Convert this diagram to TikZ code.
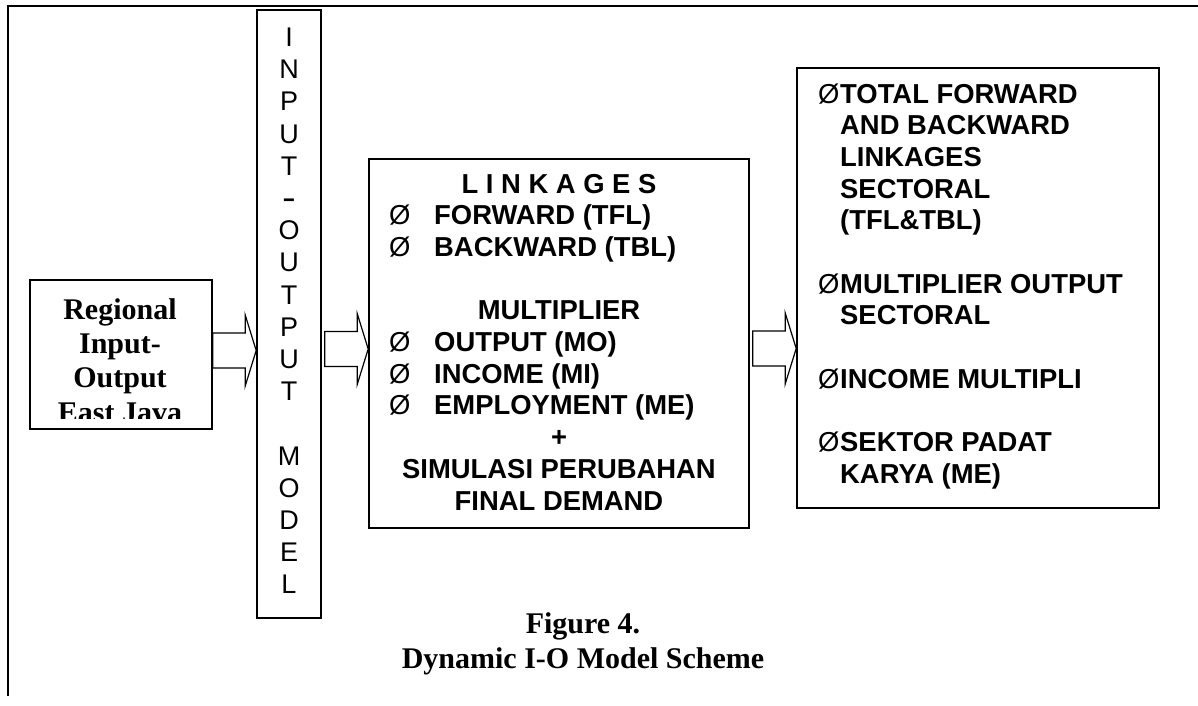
\documentclass[tikz,border=0pt]{standalone}
\usepackage{fontspec}
\setmainfont{Liberation Serif}
\newfontfamily\arialfont{Liberation Sans}
\usetikzlibrary{calc}

\begin{document}
\begin{tikzpicture}[x=1pt,y=-1pt,
  box/.style={draw, line width=1.6pt, inner sep=0pt},
  frameline/.style={line width=1.8pt, line cap=rect},
  blockarrow/.style={draw, line width=1.2pt, line join=miter},
  serifline/.style={inner sep=0pt, anchor=base,
    font=\bfseries\fontsize{30pt}{34pt}\selectfont},
  captionline/.style={inner sep=0pt, anchor=base,
    font=\bfseries\fontsize{30pt}{35pt}\selectfont},
  vletter/.style={inner sep=0pt, anchor=base,
    font=\arialfont\fontsize{27pt}{32pt}\selectfont},
  sansline/.style={inner sep=0pt,
    font=\arialfont\bfseries\fontsize{27.4pt}{31.7pt}\selectfont},
  mark symbol/.style={inner sep=0pt, anchor=base west,
    font=\arialfont\fontsize{27.4pt}{31.7pt}\selectfont}
]
\useasboundingbox (0,0) rectangle (1198,705);

% outer frame (open to the right and below)
\coordinate (frameBL) at (8,695);
\coordinate (frameTL) at (8,6);
\coordinate (frameTR) at (1198,6);
\draw[frameline] (frameBL) -- (frameTL) -- (frameTR);

% boxes
\node[box, minimum width=182pt, minimum height=149pt] (regional) at (121,354.5) {};
\node[box, minimum width=64pt, minimum height=608pt] (iomodel) at (289,314) {};
\node[box, minimum width=380pt, minimum height=369pt] (analysis) at (559,343.5) {};
\node[box, minimum width=362pt, minimum height=440pt] (results) at (978,288) {};

% Regional Input-Output East Java (last line cut off by the box)
\node[serifline] (rg1) at (120,319.5) {Regional};
\node[serifline] (rg2) at (120,353) {Input-};
\node[serifline] (rg3) at (120,387) {Output};
\begin{scope}
  \clip (31,281) rectangle (211,418.5);
  \node[serifline] (rg4) at (120,422.5) {East Java};
\end{scope}

% vertical INPUT – OUTPUT MODEL
\foreach \ch [count=\i from 0] in {I,N,P,U,T,{\scalebox{0.75}[1]{\bfseries –}},O,U,T,P,U,T}
  \node[vletter] (vt\i) at (289,{46.5+32.2*\i}) {\ch};
\foreach \ch [count=\i from 13] in {M,O,D,E,L}
  \node[vletter] (vt\i) at (289,{46.5+32.2*\i}) {\ch};

% middle box contents
\node[sansline, anchor=base] (lk) at (559,193) {L I N K A G E S};
\node[mark symbol] (m1) at (389,224.7) {Ø};
\node[sansline, anchor=base west] (fw) at (434,224.7) {FORWARD (TFL)};
\node[mark symbol] (m2) at (389,256.4) {Ø};
\node[sansline, anchor=base west] (bw) at (434,256.4) {BACKWARD (TBL)};
\node[sansline, anchor=base] (mu) at (559,319.8) {MULTIPLIER};
\node[mark symbol] (m3) at (389,351.5) {Ø};
\node[sansline, anchor=base west] (mo) at (434,351.5) {OUTPUT (MO)};
\node[mark symbol] (m4) at (389,383.2) {Ø};
\node[sansline, anchor=base west] (mi) at (434,383.2) {INCOME (MI)};
\node[mark symbol] (m5) at (389,414.9) {Ø};
\node[sansline, anchor=base west] (me) at (434,414.9) {EMPLOYMENT (ME)};
\node[sansline, anchor=base] (plus) at (559,446.6) {+};
\node[sansline, anchor=base] (sim) at (559,478.3) {SIMULASI PERUBAHAN};
\node[sansline, anchor=base] (fd) at (559,510) {FINAL DEMAND};

% right box contents
\node[mark symbol] (r1) at (818,103) {Ø};
\node[sansline, anchor=base west] (t1) at (840,103) {TOTAL FORWARD};
\node[sansline, anchor=base west] (t2) at (840,134.7) {AND BACKWARD};
\node[sansline, anchor=base west] (t3) at (840,166.4) {LINKAGES};
\node[sansline, anchor=base west] (t4) at (840,198.1) {SECTORAL};
\node[sansline, anchor=base west] (t5) at (840,229.8) {(TFL\&TBL)};
\node[mark symbol] (r2) at (818,293.2) {Ø};
\node[sansline, anchor=base west] (t6) at (840,293.2) {MULTIPLIER OUTPUT};
\node[sansline, anchor=base west] (t7) at (840,324.9) {SECTORAL};
\node[mark symbol] (r3) at (818,388.3) {Ø};
\node[sansline, anchor=base west] (t8) at (840,388.3) {INCOME MULTIPLI};
\node[mark symbol] (r4) at (818,451.7) {Ø};
\node[sansline, anchor=base west] (t9) at (840,451.7) {SEKTOR PADAT};
\node[sansline, anchor=base west] (t10) at (840,483.4) {KARYA (ME)};

% caption
\node[captionline] (cap1) at (583,633) {Figure 4.};
\node[captionline] (cap2) at (583,668) {Dynamic I-O Model Scheme};

% block arrows between the boxes
\newcommand{\blockarr}[2]{%
  \draw[blockarrow] ($(#1)+(0,-17.5)$) -- ($(#2)+(-11,-17.5)$)
    -- ($(#2)+(-11,-35.5)$) -- (#2) -- ($(#2)+(-11,35.5)$)
    -- ($(#2)+(-11,17.5)$) -- ($(#1)+(0,17.5)$) -- cycle;}
\coordinate (a1s) at (regional.east |- 0,350.5);
\coordinate (a1e) at (iomodel.west |- 0,350.5);
\coordinate (a2s) at ($(iomodel.east |- 0,349)+(3,0)$);
\coordinate (a2e) at (analysis.west |- 0,349);
\coordinate (a3s) at ($(analysis.east |- 0,348.5)+(3,0)$);
\coordinate (a3e) at (results.west |- 0,348.5);
\blockarr{a1s}{a1e}
\blockarr{a2s}{a2e}
\blockarr{a3s}{a3e}
\end{tikzpicture}
\end{document}
